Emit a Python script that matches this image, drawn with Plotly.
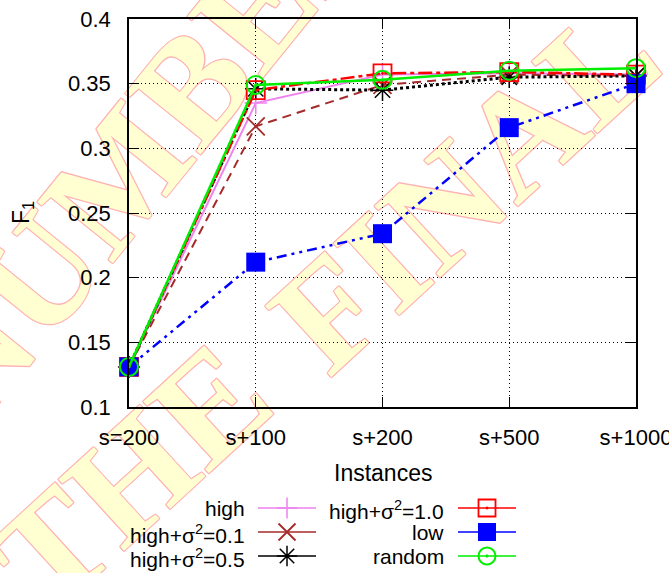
import plotly.graph_objects as go

# ---------------- data ----------------
categories = ["s=200", "s+100", "s+200", "s+500", "s+1000"]
high      = [0.131, 0.335, 0.357, 0.358, 0.357]
high_s01  = [0.131, 0.317, 0.349, 0.357, 0.356]
high_s05  = [0.131, 0.346, 0.345, 0.355, 0.356]
high_s10  = [0.131, 0.345, 0.358, 0.359, 0.357]
low       = [0.131, 0.212, 0.234, 0.316, 0.350]
random_   = [0.131, 0.349, 0.353, 0.360, 0.362]

y_ticks = [0.1, 0.15, 0.2, 0.25, 0.3, 0.35, 0.4]
y_ticktext = ["0.1", "0.15", "0.2", "0.25", "0.3", "0.35", "0.4"]

series_names = ["high", "high+σ<sup>2</sup>=0.1", "high+σ<sup>2</sup>=0.5",
                "high+σ<sup>2</sup>=1.0", "low", "random"]
series_values = [high, high_s01, high_s05, high_s10, low, random_]

# ---------------- styles ----------------
W, H = 669, 573
L, R, T, B = 129, 636, 19, 407  # plot box in pixels

styles = [
    dict(color="#ee82ee", dash="solid", width=2, symbol="cross-thin-open", size=16, lw=1.5),
    dict(color="#a52a2a", dash="9px,6px", width=2, symbol="x-thin-open", size=18, lw=1.8),
    dict(color="#000000", dash="3px,3px", width=3, symbol="asterisk-open", size=18, lw=1.5),
    dict(color="#ff0000", dash="14px,4px,4px,4px", width=2.5, symbol="square-open-dot", size=18, lw=1.8),
    dict(color="#0000ff", dash="10px,5px,3px,5px,3px,5px", width=2.5, symbol="square", size=19, lw=0),
    dict(color="#00ee00", dash="solid", width=2.5, symbol="circle-open-dot", size=18, lw=2),
]

FONT = "Liberation Sans, Arial, sans-serif"

fig = go.Figure()

for name, vals, st in zip(series_names, series_values, styles):
    fig.add_trace(go.Scatter(
        x=categories, y=vals, name=name, mode="lines+markers",
        line=dict(color=st["color"], width=st["width"], dash=st["dash"]),
        marker=dict(symbol=st["symbol"], size=st["size"], color=st["color"],
                    line=dict(color=st["color"], width=st["lw"])),
        cliponaxis=False, showlegend=False, xaxis="x", yaxis="y",
    ))

# ---------------- custom gnuplot-style legend (pixel layout on hidden axes) ----------------
leg_rows = [508, 532, 556]
leg_cols = [dict(text_right=247, x0=258, x1=316), dict(text_right=446, x0=458, x1=516)]
for i, (name, st) in enumerate(zip(series_names, styles)):
    col = leg_cols[i // 3]
    yy = leg_rows[i % 3]
    fig.add_trace(go.Scatter(
        x=[col["x0"], col["x1"]], y=[yy, yy], mode="lines",
        line=dict(color=st["color"], width=1.5), hoverinfo="skip",
        showlegend=False, xaxis="x2", yaxis="y2", cliponaxis=False))
    lsize = st["size"] - 1
    fig.add_trace(go.Scatter(
        x=[(col["x0"] + col["x1"]) / 2], y=[yy], mode="markers",
        marker=dict(symbol=st["symbol"], size=lsize, color=st["color"],
                    line=dict(color=st["color"], width=max(st["lw"], 1.2) if st["lw"] else 0)),
        hoverinfo="skip", showlegend=False, xaxis="x2", yaxis="y2", cliponaxis=False))
    fig.add_annotation(x=col["text_right"], y=yy + (2 if "sup" in name else 0), xref="x2", yref="y2",
                       text=name, showarrow=False, xanchor="right", yanchor="middle",
                       font=dict(family=FONT, size=21, color="#000"))

# axis titles
fig.add_annotation(x=383, y=473, xref="x2", yref="y2", text="Instances", showarrow=False,
                   font=dict(family=FONT, size=23, color="#000"), xanchor="center", yanchor="middle")
fig.add_annotation(x=22, y=213, xref="x2", yref="y2", text="F<sub>1</sub>", showarrow=False,
                   textangle=-90, font=dict(family=FONT, size=23, color="#000"),
                   xanchor="center", yanchor="middle")

# ---------------- watermark (drawn below everything) ----------------
def px(xp):
    return xp / W

def py(yp):
    return 1 - yp / H

shadow = ", ".join(f"{dx}px {dy}px 0 #ffb4b4" for dx, dy in
                   [(1, 0), (-1, 0), (0, 1), (0, -1), (1, 1), (-1, 1), (1, -1), (-1, -1)])
marks = [("NUMBERED", 197, 54, -51), ("THE", 120, 465, -42.5), ("FINAL", 454, 175, -42.5),
         ("VERSION", 899, -233, -42.5)]
for txt, cx, cy, ang in marks:
    shp = dict(type="rect", xref="paper", yref="paper",
               x0=px(cx - 1), x1=px(cx + 1), y0=py(cy + 1), y1=py(cy - 1),
               line=dict(width=0), fillcolor="rgba(0,0,0,0)", layer="below")
    lab = dict(text=txt, textangle=ang, textposition="middle center",
               font=dict(family="Liberation Serif, Times New Roman, serif", size=148,
                         color="#ffffd2", weight="bold", shadow=shadow))
    try:
        fig.add_shape(**shp, label=lab)
    except Exception:
        lab["font"].pop("shadow", None)
        lab["font"].pop("weight", None)
        fig.add_shape(**shp, label=lab)

# ---------------- layout ----------------
fig.update_layout(
    width=W, height=H, margin=dict(l=0, r=0, t=0, b=0, pad=0),
    paper_bgcolor="white", plot_bgcolor="rgba(0,0,0,0)", template="none",
    showlegend=False,
    xaxis=dict(domain=[L / W, R / W], type="category", range=[0, 4],
               showline=True, linecolor="black", linewidth=1.5, mirror="allticks",
               ticks="inside", ticklen=10, tickcolor="black", tickwidth=1,
               showgrid=True, gridcolor="black", gridwidth=1, griddash="1px,3px",
               zeroline=False, automargin=False, ticklabelstandoff=10,
               tickfont=dict(family=FONT, size=22, color="#000"), anchor="y"),
    yaxis=dict(domain=[1 - B / H, 1 - T / H], range=[0.1, 0.4],
               tickvals=y_ticks, ticktext=y_ticktext,
               showline=True, linecolor="black", linewidth=1.5, mirror="allticks",
               ticks="inside", ticklen=10, tickcolor="black", tickwidth=1,
               showgrid=True, gridcolor="black", gridwidth=1, griddash="1px,3px",
               zeroline=False, automargin=False, ticklabelstandoff=12,
               tickfont=dict(family=FONT, size=22, color="#000"), anchor="x"),
    xaxis2=dict(domain=[0, 1], range=[0, W], visible=False, fixedrange=True, anchor="y2"),
    yaxis2=dict(domain=[0, 1], range=[H, 0], visible=False, fixedrange=True, anchor="x2"),
)

fig.write_html("out.html")
